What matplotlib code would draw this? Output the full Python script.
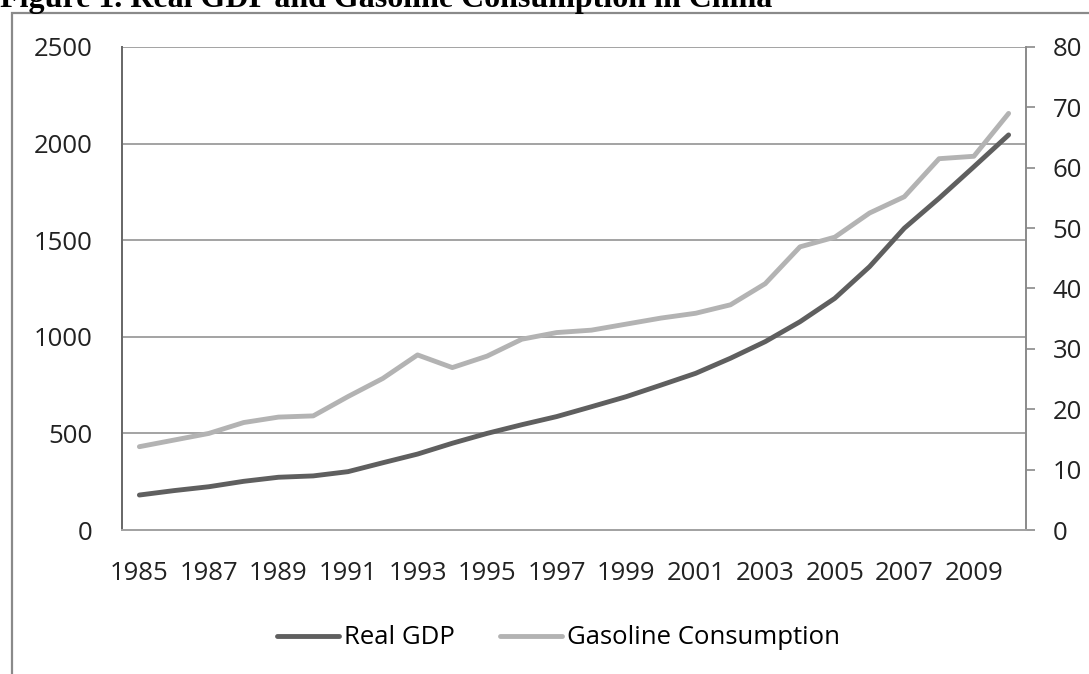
import numpy as np
import matplotlib.pyplot as plt
from matplotlib.patches import Rectangle

years = list(range(1985, 2011))
real_gdp = [181, 204, 224, 252, 273, 280, 302, 348, 393, 449, 500, 545,
            587, 638, 690, 750, 811, 889, 975, 1078, 1199, 1363, 1562, 1717,
            1880, 2045]
gasoline = [13.8, 14.9, 16.0, 17.8, 18.7, 18.9, 22.1, 25.1, 29.0, 26.9, 28.8,
            31.6, 32.7, 33.1, 34.1, 35.1, 35.9, 37.3, 40.8, 46.9, 48.5, 52.5,
            55.2, 61.5, 61.9, 69.0]
year_labels = [str(y) if (y - 1985) % 2 == 0 else '' for y in years]
left_ticks = [0, 500, 1000, 1500, 2000, 2500]
right_ticks = [0, 10, 20, 30, 40, 50, 60, 70, 80]

plt.rcParams['font.family'] = ['Open Sans', 'DejaVu Sans']
FS = 18.5
DARK = '#5f5f5f'
LIGHT = '#b3b3b3'
GRID = '#a3a3a3'

fig = plt.figure(figsize=(10.89, 6.74), dpi=100)
ax = fig.add_axes([122/1089, 1 - 530/674, (1026-122)/1089, (530-47)/674])
ax2 = ax.twinx()

x = np.arange(len(years))
l1, = ax.plot(x, real_gdp, color=DARK, lw=3.5, solid_capstyle='round', label='Real GDP', zorder=3)
l2, = ax2.plot(x, gasoline, color=LIGHT, lw=3.5, solid_capstyle='round', label='Gasoline Consumption', zorder=3)

ax.set_xlim(-0.5, len(years) - 0.5)
ax.set_ylim(0, 2500)
ax2.set_ylim(0, 80)
ax.set_yticks(left_ticks)
ax.set_yticklabels([str(t) for t in left_ticks], fontsize=FS, color='#222222')
ax2.set_yticks(right_ticks)
ax2.set_yticklabels([str(t) for t in right_ticks], fontsize=FS, color='#222222')
ax.set_xticks(x)
ax.set_xticklabels(year_labels, fontsize=FS, color='#222222')

ax.yaxis.grid(True, color=GRID, lw=1.4)
ax.set_axisbelow(True)
ax.tick_params(axis='y', length=0, pad=21.5)
ax.tick_params(axis='x', length=0, pad=22)
ax2.tick_params(axis='y', length=6.5, width=1.2, color='#8a8a8a', direction='out', pad=12.5)

for a in (ax, ax2):
    a.spines['top'].set_visible(False)
    a.spines['left'].set_color('#6a6a6a')
    a.spines['left'].set_linewidth(1.4)
    a.spines['bottom'].set_color(GRID)
    a.spines['bottom'].set_linewidth(1.4)
    a.spines['right'].set_color('#8a8a8a')
    a.spines['right'].set_linewidth(1.2)

fig.legend(handles=[l1, l2], loc='center', bbox_to_anchor=(0.513, 1 - 638/674),
           ncol=2, frameon=False, fontsize=FS, handlelength=2.4, handletextpad=0.2,
           columnspacing=1.75)

# chart border and cut off caption
fig.patches.append(Rectangle((12/1089, -0.05), 1.2, 1 - 13/674 + 0.05, transform=fig.transFigure,
                             fill=False, ec='#8a8a8a', lw=1.6, zorder=0))
fig.text(0.0, 1 - 7/674, 'Figure 1. Real GDP and Gasoline Consumption in China',
         fontsize=23, fontweight='bold', family='Liberation Serif', va='baseline', ha='left')

fig.savefig('out.png', dpi=100)
